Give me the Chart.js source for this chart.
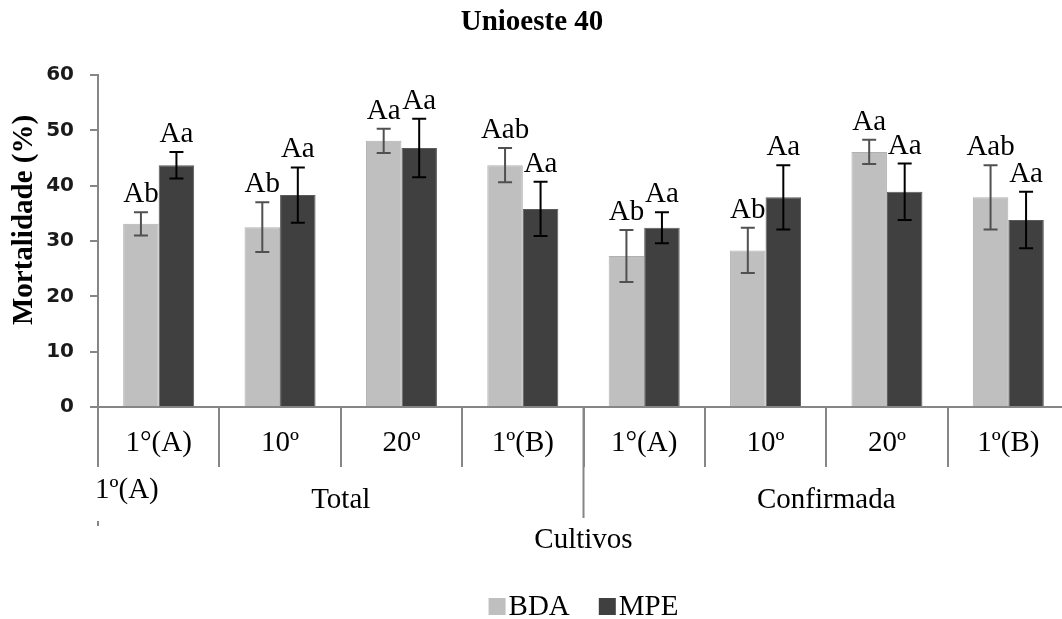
<!DOCTYPE html>
<html>
<head>
<meta charset="utf-8">
<title>Unioeste 40</title>
<script src="https://cdn.jsdelivr.net/npm/chart.js@4.4.1/dist/chart.umd.min.js"></script>
<style>
  body { margin: 0; background: #fff; overflow: hidden; }
  #wrap { width: 1075px; height: 619px; }
</style>
</head>
<body>
<div id="wrap"><canvas id="chart" width="1075" height="619"></canvas></div>
<script>
// categories (two groups of four cultures)
const cultivos = ["1°(A)", "10º", "20º", "1º(B)", "1°(A)", "10º", "20º", "1º(B)"];
const grupos = ["Total", "Confirmada"];

// BDA series
const bda = [33.1, 32.5, 48.1, 43.7, 27.3, 28.3, 46.1, 37.9];
const bdaErr = [2.1, 4.5, 2.2, 3.1, 4.7, 4.1, 2.2, 5.8];
const bdaLetras = ["Ab", "Ab", "Aa", "Aab", "Ab", "Ab", "Aa", "Aab"];

// MPE series
const mpe = [43.7, 38.3, 46.8, 35.8, 32.4, 37.9, 38.9, 33.8];
const mpeErr = [2.4, 5.0, 5.3, 4.9, 2.8, 5.8, 5.1, 5.1];
const mpeLetras = ["Aa", "Aa", "Aa", "Aa", "Aa", "Aa", "Aa", "Aa"];

const yMin = 0, yMax = 60, yStep = 10;

const SERIF = '"Liberation Serif", "Times New Roman", serif';
const AXIS = '#868686';

// error bars + significance letters above each bar
const errorBars = {
  id: 'errorBars',
  afterDatasetsDraw(chart) {
    const { ctx } = chart;
    const y = chart.scales.y;
    chart.data.datasets.forEach((ds, i) => {
      const meta = chart.getDatasetMeta(i);
      meta.data.forEach((bar, j) => {
        const v = ds.data[j], e = ds.errors[j];
        const top = y.getPixelForValue(v + e);
        const bot = y.getPixelForValue(v - e);
        ctx.save();
        ctx.strokeStyle = ds.errColor;
        ctx.lineWidth = 2;
        ctx.beginPath();
        ctx.moveTo(bar.x, top); ctx.lineTo(bar.x, bot);
        ctx.moveTo(bar.x - 7, top); ctx.lineTo(bar.x + 7, top);
        ctx.moveTo(bar.x - 7, bot); ctx.lineTo(bar.x + 7, bot);
        ctx.stroke();
        ctx.fillStyle = '#000';
        ctx.font = '29px ' + SERIF;
        ctx.textAlign = 'center';
        ctx.textBaseline = 'alphabetic';
        ctx.fillText(ds.letters[j], bar.x, top - 10);
        ctx.restore();
      });
    });
  }
};

// title, axis titles, group labels and legend
const extras = {
  id: 'extras',
  afterDraw(chart) {
    const { ctx, chartArea } = chart;
    const x = chart.scales.x;
    const n = cultivos.length / grupos.length;
    ctx.save();
    ctx.fillStyle = '#000';
    ctx.textBaseline = 'middle';

    // title
    ctx.font = 'bold 29px ' + SERIF;
    ctx.textAlign = 'center';
    ctx.fillText('Unioeste 40', 532, 23);

    // y title
    ctx.save();
    ctx.translate(25, 220);
    ctx.rotate(-Math.PI / 2);
    ctx.fillText('Mortalidade (%)', 0, 0);
    ctx.restore();

    // group labels and divider
    ctx.font = '29px ' + SERIF;
    grupos.forEach((g, k) => {
      const a = x.getPixelForValue(k * n - 0.5);
      const b = x.getPixelForValue((k + 1) * n - 0.5);
      ctx.fillText(g, (a + b) / 2, 500);
    });
    ctx.strokeStyle = AXIS;
    ctx.lineWidth = 2;
    const mid = x.getPixelForValue(n - 0.5);
    ctx.beginPath();
    ctx.moveTo(mid, chartArea.bottom);
    ctx.lineTo(mid, 518);
    ctx.moveTo(chartArea.left, 521);
    ctx.lineTo(chartArea.left, 526);
    ctx.stroke();

    ctx.fillText('Cultivos', mid, 540);

    ctx.textAlign = 'left';
    ctx.fillText('1º(A)', chartArea.left - 3, 490);

    // legend
    const items = chart.data.datasets.map(ds => ({ label: ds.label, color: ds.backgroundColor }));
    const box = 17, gap = 3, sep = 29;
    let total = 0;
    items.forEach((it, k) => {
      it.w = ctx.measureText(it.label).width;
      total += box + gap + it.w + (k ? sep : 0);
    });
    let lx = (chartArea.left + chartArea.right) / 2 - total / 2;
    items.forEach(it => {
      ctx.fillStyle = it.color;
      ctx.fillRect(lx, 598, box, box);
      ctx.fillStyle = '#000';
      ctx.fillText(it.label, lx + box + gap, 607);
      lx += box + gap + it.w + sep;
    });
    ctx.restore();
  }
};

new Chart(document.getElementById('chart'), {
  type: 'bar',
  data: {
    labels: cultivos,
    datasets: [
      {
        label: 'BDA',
        data: bda,
        errors: bdaErr,
        letters: bdaLetras,
        errColor: '#505050',
        backgroundColor: '#BFBFBF',
        borderColor: '#B0B0B0',
        borderWidth: 1,
        categoryPercentage: 0.585,
        barPercentage: 1.0
      },
      {
        label: 'MPE',
        data: mpe,
        errors: mpeErr,
        letters: mpeLetras,
        errColor: '#000',
        backgroundColor: '#404040',
        borderColor: '#5A5A5A',
        borderWidth: 1,
        categoryPercentage: 0.585,
        barPercentage: 1.0
      }
    ]
  },
  options: {
    responsive: false,
    animation: false,
    layout: { padding: { top: 75, right: 6, left: 0, bottom: 0 } },
    plugins: {
      legend: { display: false },
      title: { display: false },
      tooltip: { enabled: false }
    },
    scales: {
      x: {
        afterFit: scale => { scale.height = 212; },
        border: { display: true, color: AXIS, width: 2 },
        grid: { offset: true, drawOnChartArea: false, tickLength: 60, color: AXIS, lineWidth: 2 },
        ticks: {
          autoSkip: false, maxRotation: 0, padding: -41,
          color: '#000',
          font: { family: SERIF, size: 29 }
        }
      },
      y: {
        min: yMin, max: yMax,
        afterFit: scale => { scale.width = 98; },
        border: { display: true, color: AXIS, width: 2 },
        grid: { drawOnChartArea: false, tickLength: 8, color: AXIS, lineWidth: 2 },
        ticks: {
          stepSize: yStep, padding: 16,
          color: '#1a1a1a',
          font: { family: '"DejaVu Sans", sans-serif', size: 20, weight: 'bold' }
        }
      }
    }
  },
  plugins: [errorBars, extras]
});
</script>
</body>
</html>
